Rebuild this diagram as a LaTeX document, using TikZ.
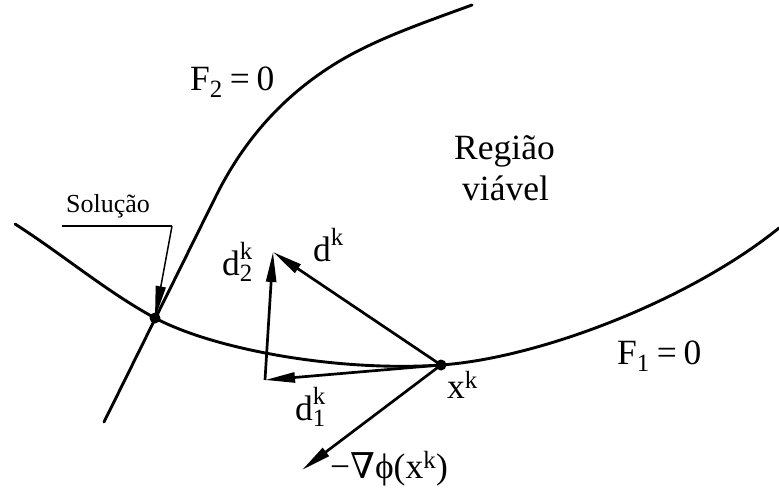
\documentclass[tikz,border=0pt]{standalone}
\usepackage{amsmath}
\usepackage{fontspec}
\setmainfont{Liberation Serif}
\newfontfamily\dvs{DejaVu Serif}
\usetikzlibrary{arrows.meta}
\begin{document}
\begin{tikzpicture}[x=1pt,y=-1pt,
  curve/.style={line width=2.9pt, line cap=round, line join=round},
  vec/.style={line width=2.7pt, -{Triangle[length=30pt,width=10pt]}},
  thinvec/.style={line width=1.5pt, -{Triangle[length=32pt,width=10pt]}},
  lbl/.style={anchor=base west, inner sep=0pt, font=\fontsize{35.5}{42}\selectfont},
  smalllbl/.style={anchor=base west, inner sep=0pt, font=\fontsize{26}{30}\selectfont},
  dot/.style={circle, fill, inner sep=0pt, minimum size=11pt}]
\useasboundingbox (0,0) rectangle (779,496);
% points
\coordinate (solpt) at (155,318);
\coordinate (xkpt) at (441,365);
% curve F1 = 0
\draw[curve] (15,224) .. controls (62,254) and (107,292) .. (solpt)
  .. controls (215,350) and (340,372) .. (xkpt)
  .. controls (540,358) and (690,300) .. (779,228);
% curve F2 = 0
\draw[curve] (104,422) -- (215,198)
  .. controls (245,137) and (285,96) .. (330,67)
  .. controls (370,41) and (420,24) .. (472,5);
\node[dot] (sol) at (solpt) {};
\node[dot] (xk) at (xkpt) {};
\coordinate (tip) at (273,252);
\coordinate (corner) at (265,380);
\coordinate (grad) at (302,470);
\coordinate (leadL) at (62,226);
\coordinate (leadR) at (172,226);
% vectors
\draw[vec] (xk.center) -- (tip);
\draw[vec] (corner) -- (tip);
\draw[vec] (xk.center) -- (corner);
\draw[vec] (xk.center) -- (grad);
\draw[line width=1.5pt] (leadL) -- (leadR);
\draw[thinvec] (leadR) -- (sol.center);
% labels
\node[smalllbl] (lsol) at (66,212) {Solução};
\node[lbl] (lf2) at (190,90) {$\textrm{F}_{\textrm{2}}\;\textrm{=}\;\textrm{0}$};
\node[lbl] (lf1) at (617,364) {$\textrm{F}_{\textrm{1}}\;\textrm{=}\;\textrm{0}$};
\node[lbl] (lreg) at (454,159) {Região};
\node[lbl] (lvia) at (462,200) {viável};
\node[lbl] (ldk) at (313,261) {$\textrm{d}^{\textrm{k}}$};
\node[lbl] (ld2) at (222,275) {$\textrm{d}^{\textrm{k}}_{\textrm{2}}$};
\node[lbl] (ld1) at (295,420) {$\textrm{d}^{\textrm{k}}_{\textrm{1}}$};
\node[lbl] (lxk) at (447,398) {$\textrm{x}^{\textrm{k}}$};
\node[lbl] (lgrad) at (330,478) {−{\dvs ∇}ϕ(x\textsuperscript{k})};
\end{tikzpicture}
\end{document}
